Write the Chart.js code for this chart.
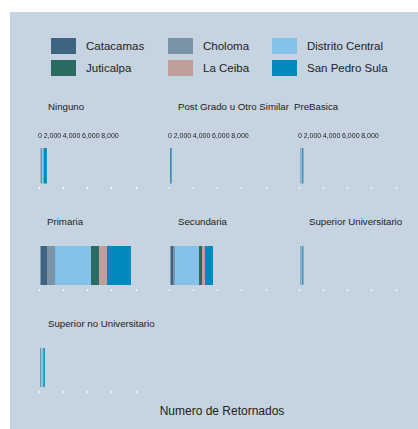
<!DOCTYPE html>
<html>
<head>
<meta charset="utf-8">
<script src="https://cdn.jsdelivr.net/npm/chart.js@4"></script>
<style>
  body { margin: 0; width: 418px; height: 429px; overflow: hidden; background: #fff; position: relative;
         font-family: "Liberation Sans", Arial, sans-serif; color: #222; }
  #panel { position: absolute; left: 10px; top: 12px; width: 408px; height: 417px; background: #c6d3e0; }
  .sw { position: absolute; width: 25px; height: 16px; }
  .lg { position: absolute; font-size: 11.5px; line-height: 16px; white-space: nowrap; }
  .facet { position: absolute; font-size: 9.7px; line-height: 12px; white-space: nowrap; }
  .box { position: absolute; }
  #xtitle { position: absolute; left: 122px; width: 200px; top: 404px; text-align: center; font-size: 12px; line-height: 14px; }
</style>
</head>
<body>
<div id="panel"></div>
<div id="legend"></div>
<div id="facets"></div>
<div id="xtitle">Numero de Retornados</div>
<script>
// ciudades y niveles educativos
const cities = ["Catacamas", "Choloma", "Distrito Central", "Juticalpa", "La Ceiba", "San Pedro Sula"];
const levels = ["Ninguno", "Post Grado u Otro Similar", "PreBasica", "Primaria", "Secundaria",
                "Superior Universitario", "Superior no Universitario"];

// retornados por ciudad, en el orden de levels
const catacamas       = [40, 3, 30, 583, 250, 25, 20];
const choloma         = [120, 5, 30, 690, 167, 25, 60];
const distritoCentral = [110, 20, 80, 2975, 2000, 90, 170];
const juticalpa       = [20, 2, 20, 667, 250, 20, 15];
const laCeiba         = [30, 3, 20, 667, 250, 20, 20];
const sanPedroSula    = [250, 100, 100, 2000, 667, 100, 120];

const tickValues = [0, 2000, 4000, 6000, 8000];

const series = [catacamas, choloma, distritoCentral, juticalpa, laCeiba, sanPedroSula];
const colors = ["#3d6480", "#7b93a8", "#85c1e9", "#2a6b62", "#c09f9a", "#0089bc"];
const FONT = "Liberation Sans";

// leyenda
const legendPos = [[51, 38], [51, 60], [168, 38], [168, 60], [272, 38], [272, 60]];
const legendOrder = [0, 3, 1, 4, 2, 5];
const legend = document.getElementById('legend');
legendOrder.forEach((ci, k) => {
    const [x, y] = legendPos[k];
    const sw = document.createElement('div');
    sw.className = 'sw';
    sw.style.left = x + 'px';
    sw.style.top = y + 'px';
    sw.style.background = colors[ci];
    legend.appendChild(sw);
    const t = document.createElement('div');
    t.className = 'lg';
    t.style.left = (x + 35) + 'px';
    t.style.top = y + 'px';
    t.textContent = cities[ci];
    legend.appendChild(t);
});

// posicion de cada faceta: columna, fila, titulo
const colLeft = [30, 160, 290];
const rowBox = [{ top: 128, height: 61 }, { top: 242, height: 49 }, { top: 344, height: 49 }];
const titleTop = [101, 216, 318];
const facetCell = [[0, 0], [1, 0], [2, 0], [0, 1], [1, 1], [2, 1], [0, 2]];
const titleLeft = [48, 178, 294, 47, 178, 309, 48];

const facets = document.getElementById('facets');
const W = 125;

levels.forEach((level, i) => {
    const [col, row] = facetCell[i];

    const title = document.createElement('div');
    title.className = 'facet';
    title.style.left = titleLeft[i] + 'px';
    title.style.top = titleTop[row] + 'px';
    title.textContent = level;
    facets.appendChild(title);

    const box = document.createElement('div');
    box.className = 'box';
    box.style.left = colLeft[col] + 'px';
    box.style.top = rowBox[row].top + 'px';
    const canvas = document.createElement('canvas');
    canvas.width = W;
    canvas.height = rowBox[row].height;
    box.appendChild(canvas);
    facets.appendChild(box);

    const scales = {
        x: {
            type: 'linear', position: 'bottom', stacked: true,
            min: -10 / 0.012, max: (W - 10) / 0.012,
            afterBuildTicks: a => { a.ticks = tickValues.map(v => ({ value: v })); },
            ticks: { display: false },
            border: { display: false },
            grid: { color: 'rgba(255,255,255,0.03)', tickColor: '#ffffff', tickLength: 2, drawTicks: true }
        },
        y: { stacked: true, display: false }
    };
    if (row === 0) {
        scales.xTop = {
            axis: 'x', type: 'linear', position: 'top',
            min: -12 / 0.00959, max: (W - 12) / 0.00959,
            afterBuildTicks: a => { a.ticks = tickValues.map(v => ({ value: v })); },
            border: { display: false },
            grid: { display: false, drawTicks: false },
            ticks: {
                align: 'end', padding: 4, color: '#222',
                font: { family: FONT, size: 7 },
                callback: v => v.toLocaleString('en-US')
            }
        };
    }

    new Chart(canvas, {
        type: 'bar',
        data: {
            labels: [level],
            datasets: cities.map((c, k) => ({
                label: c,
                data: [series[k][i]],
                backgroundColor: colors[k],
                borderWidth: 0,
                barPercentage: 1,
                categoryPercentage: 0.83
            }))
        },
        options: {
            indexAxis: 'y',
            responsive: false,
            animation: false,
            layout: { padding: 0 },
            plugins: { legend: { display: false }, tooltip: { enabled: false } },
            scales: scales
        }
    });
});
</script>
</body>
</html>
